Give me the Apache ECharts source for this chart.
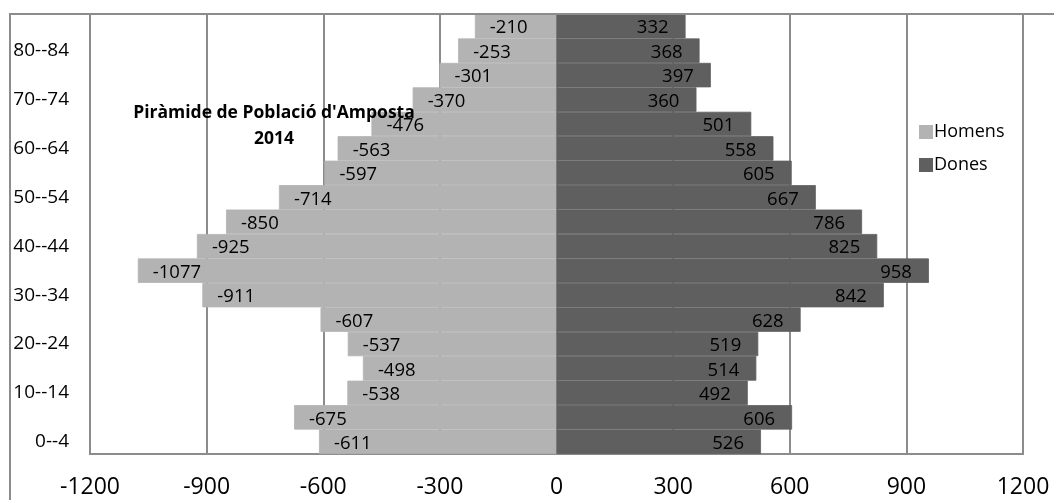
<!DOCTYPE html>
<html>
<head>
<meta charset="utf-8">
<script src="https://cdn.jsdelivr.net/npm/echarts@6/dist/echarts.min.js"></script>
<style>html,body{margin:0;padding:0;background:#fff}#c{width:1054px;height:500px}</style>
</head>
<body>
<div id="c"></div>
<script>
const categories = ['0--4','5--9','10--14','15--19','20--24','25--29','30--34','35--39','40--44','45--49','50--54','55--59','60--64','65--69','70--74','75--79','80--84','85+'];
const homens = [-611,-675,-538,-498,-537,-607,-911,-1077,-925,-850,-714,-597,-563,-476,-370,-301,-253,-210];
const dones = [526,606,492,514,519,628,842,958,825,786,667,605,558,501,360,397,368,332];
const xTicks = [-1200,-900,-600,-300,0,300,600,900,1200];
const titleText = "Piràmide de Població d'Amposta\n2014";

const FONT = '"Open Sans", sans-serif';
const chart = echarts.init(document.getElementById('c'), null, {renderer:'canvas'});
chart.setOption({
  animation: false,
  backgroundColor: '#fff',
  grid: {left: 90, right: 31, top: 14, bottom: 46, show: true, borderColor: '#8c8c8c', borderWidth: 2, containLabel: false},
  legend: {
    orient: 'vertical', left: 914, top: 118, itemWidth: 12, itemHeight: 12, itemGap: 15,
    icon: 'rect',
    textStyle: {fontFamily: FONT, fontSize: 18, color: '#000', padding: [0,0,0,-3]},
    data: ['Homens','Dones']
  },
  xAxis: {
    type: 'value', min: xTicks[0], max: xTicks[xTicks.length-1], interval: 300,
    axisLine: {show: false}, axisTick: {show: false},
    splitLine: {show: true, lineStyle: {color: '#8c8c8c', width: 2}},
    axisLabel: {fontFamily: FONT, fontSize: 23, color: '#000', margin: 22, formatter: v => String(v)}
  },
  yAxis: {
    type: 'category', data: categories,
    axisLine: {show: true, lineStyle: {color: '#8c8c8c', width: 2}},
    axisTick: {show: false},
    axisLabel: {interval: 1, fontFamily: FONT, fontSize: 19, color: '#000', margin: 21}
  },
  graphic: [
    {type: 'polyline', shape: {points: [[10,500],[10,14],[1054,14]]}, style: {stroke: '#8c8c8c', lineWidth: 2, fill: null}, z: 100},
    {type: 'text', x: 274, y: 126, z: 100, style: {text: titleText, font: 'bold 17.5px "Open Sans", sans-serif', fill: '#000', align: 'center', verticalAlign: 'middle', lineHeight: 26}}
  ],
  series: [
    {name: 'Homens', type: 'bar', stack: 'p', data: homens, barCategoryGap: '0%',
     itemStyle: {color: '#b3b3b3', borderColor: '#b3b3b3', borderWidth: 0.8},
     label: {show: true, position: 'insideLeft', distance: 15, fontFamily: FONT, fontSize: 18.5, color: '#000', offset: [0, 2]}},
    {name: 'Dones', type: 'bar', stack: 'p', data: dones, barCategoryGap: '0%',
     itemStyle: {color: '#5f5f5f', borderColor: '#5f5f5f', borderWidth: 0.8},
     label: {show: true, position: 'insideRight', distance: 17, fontFamily: FONT, fontSize: 18.5, color: '#000', offset: [0, 2]}}
  ]
});
</script>
</body>
</html>
